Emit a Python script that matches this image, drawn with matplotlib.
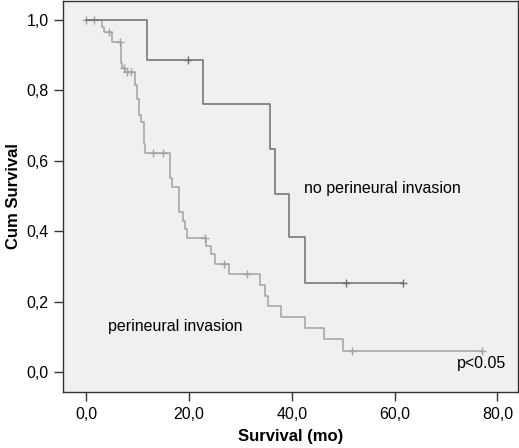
import numpy as np
import matplotlib
matplotlib.use("Agg")
import matplotlib.pyplot as plt

# Kaplan-Meier curves (months, cumulative survival)
perineural_times = [3.05, 3.56, 5.0, 6.71, 7.0, 7.59, 9.47, 9.82, 10.25, 10.7,
                    11.23, 11.54, 16.24, 16.34, 16.67, 18.15, 18.93, 19.26, 19.71,
                    23.35, 24.26, 25.04, 27.82, 33.75, 34.73, 35.31, 37.87, 42.61,
                    46.36, 50.04]
perineural_surv = [0.981, 0.965, 0.938, 0.877, 0.863, 0.851, 0.815, 0.776, 0.730, 0.709,
                   0.647, 0.623, 0.597, 0.550, 0.526, 0.455, 0.430, 0.406, 0.380,
                   0.357, 0.334, 0.306, 0.277, 0.248, 0.217, 0.186, 0.155, 0.124,
                   0.093, 0.060]
perineural_censored = [0.0, 1.6, 4.47, 6.67, 7.32, 7.98, 8.63, 12.98, 14.88,
                       23.15, 26.91, 31.36, 51.67, 77.0]

no_perineural_times = [11.9, 22.8, 35.7, 36.8, 39.4, 42.6]
no_perineural_surv = [0.886, 0.762, 0.634, 0.505, 0.383, 0.253]
no_perineural_censored = [19.8, 50.6, 61.7]

x_ticks = [0, 20, 40, 60, 80]
y_ticks = [0.0, 0.2, 0.4, 0.6, 0.8, 1.0]


def km_steps(times, surv, censored):
    """Build step arrays starting at (0, 1) and ending at last observation"""
    t = [0.0] + list(times)
    s = [1.0] + list(surv)
    end = max(max(censored), t[-1])
    t.append(end)
    s.append(s[-1])
    return np.array(t), np.array(s)


def surv_at(times, surv, t):
    s = 1.0
    for ti, si in zip(times, surv):
        if ti <= t:
            s = si
    return s


def plot_km(ax, times, surv, censored, color):
    t, s = km_steps(times, surv, censored)
    ax.step(t, s, where='post', color=color, lw=1.1)
    cy = [surv_at(times, surv, c) for c in censored]
    ax.plot(censored, cy, ls='none', marker='+', ms=6, mew=1.0, color=color)


plt.rcParams['font.family'] = ['Liberation Sans', 'DejaVu Sans']

fig = plt.figure(figsize=(5.19, 4.48), dpi=100)
ax = fig.add_axes([0.1214, 0.125, 0.8766, 0.873])
ax.set_facecolor('#f0f0f0')

plot_km(ax, perineural_times, perineural_surv, perineural_censored, '#a3a3a3')
plot_km(ax, no_perineural_times, no_perineural_surv, no_perineural_censored, '#6e6e6e')

ax.set_xlim(-4.5, 84.0)
ax.set_ylim(-0.057, 1.054)
ax.set_xticks(x_ticks)
ax.set_xticklabels([f"{v:.1f}".replace('.', ',') for v in x_ticks], fontsize=11.5)
ax.set_yticks(y_ticks)
ax.set_yticklabels([f"{v:.1f}".replace('.', ',') for v in y_ticks], fontsize=11.5)
ax.tick_params(direction='out', length=6.5, width=1, color='#333333', pad=4)

for sp in ax.spines.values():
    sp.set_color('#333333')
    sp.set_linewidth(1.0)

ax.set_xlabel('Survival (mo)', fontsize=12, fontweight='bold', labelpad=5)
ax.set_ylabel('Cum Survival', fontsize=12, fontweight='bold', labelpad=4)

ax.text(42.4, 0.52, 'no perineural invasion', fontsize=11.5, va='center', ha='left')
ax.text(4.2, 0.128, 'perineural invasion', fontsize=11.5, va='center', ha='left')
ax.text(72.1, 0.025, 'p<0.05', fontsize=11.5, va='center', ha='left')

fig.savefig('out.png', dpi=100)
